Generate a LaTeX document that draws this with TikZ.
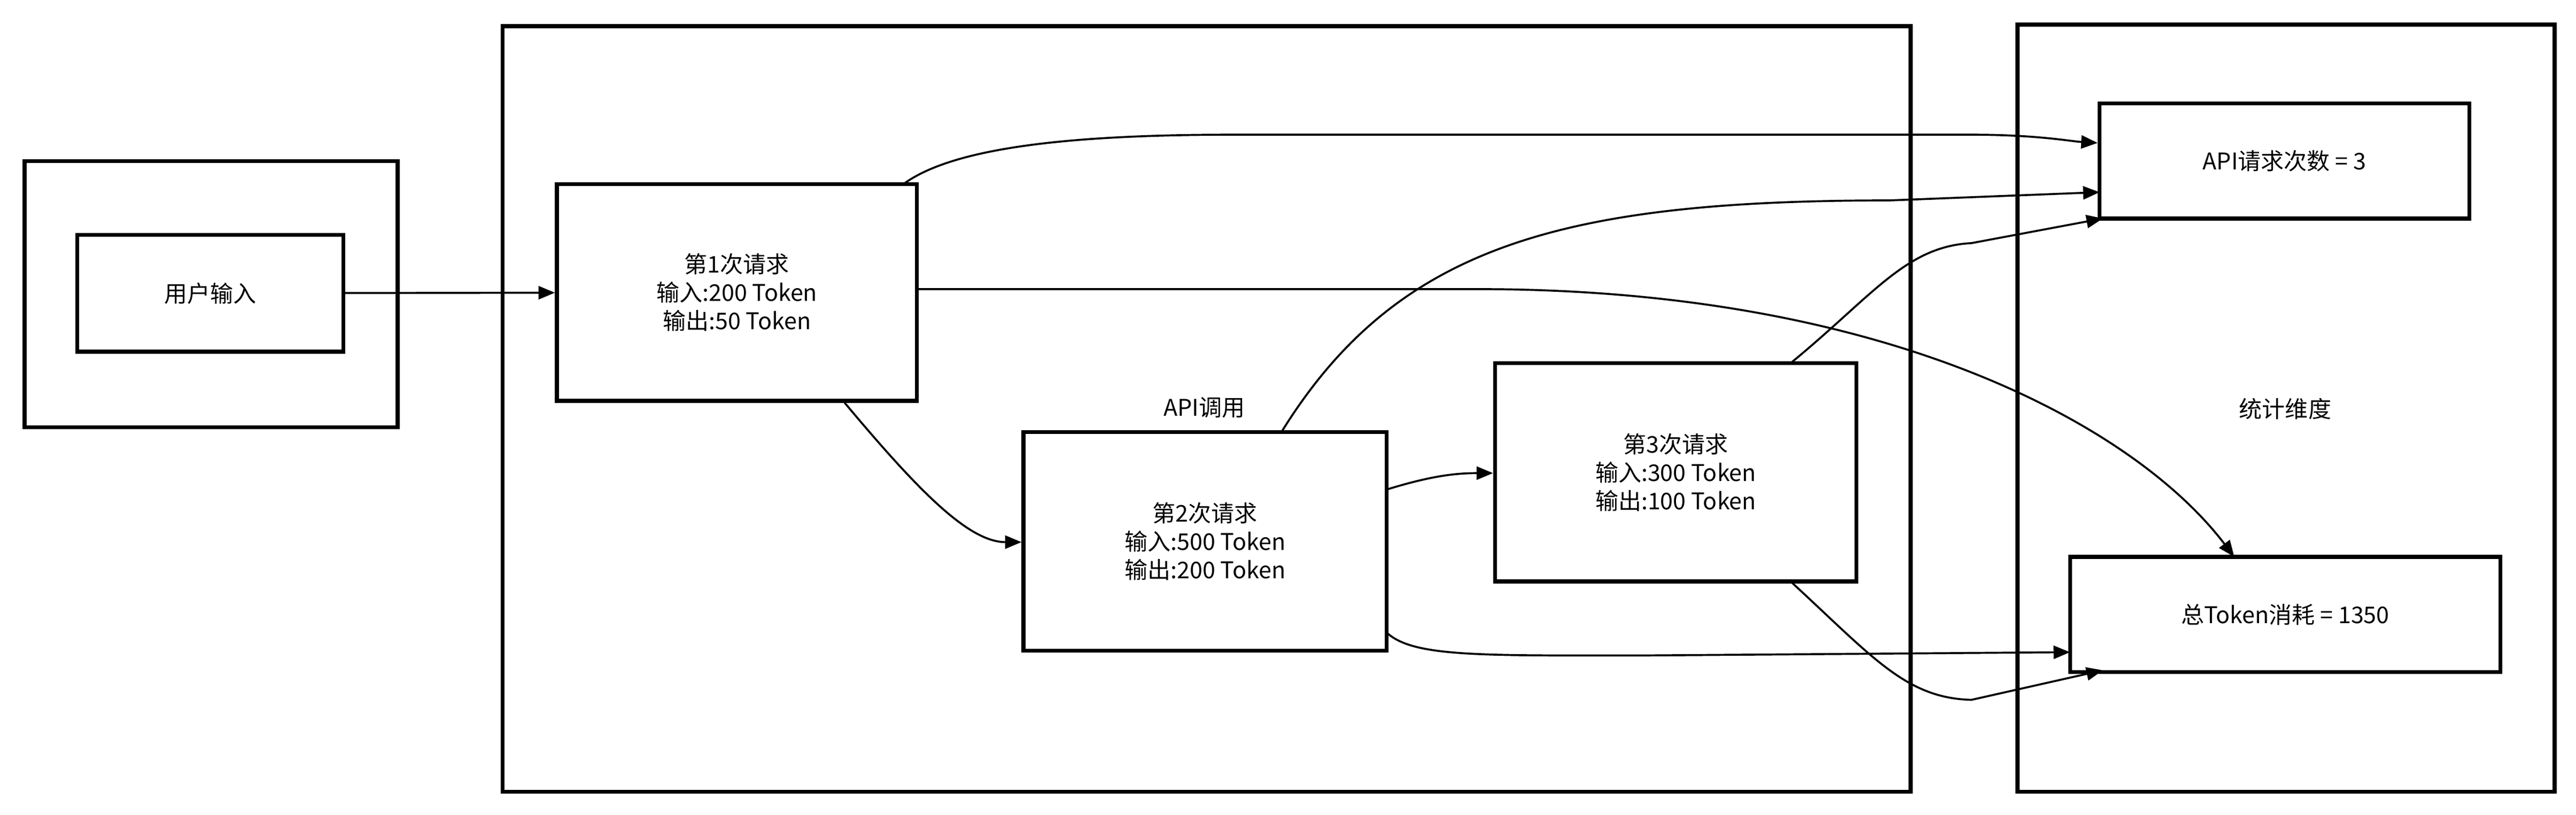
\documentclass[tikz,border=0pt]{standalone}
\usepackage{fontspec}
\setmainfont{Noto Sans CJK SC}
\usetikzlibrary{arrows.meta,positioning}
\tikzset{
  box/.style={draw,line width=1.2pt,align=center,font=\fontsize{7}{8.6}\selectfont},
  group/.style={draw,line width=1.2pt},
  link/.style={-{Triangle[length=5pt,width=4pt]},line width=0.6pt},
}
\begin{document}
\begin{tikzpicture}[x=0.5pt,y=-0.5pt]
\useasboundingbox (0,0) rectangle (1568,496);
% groups
\draw[group] (15,98) rectangle (242,260);
\draw[group] (306,16) rectangle (1163,482);
\draw[group] (1228,15) rectangle (1555,482);
\node[font=\fontsize{7}{8.6}\selectfont] (apilabel) at (733,248) {API调用};
\node[font=\fontsize{7}{8.6}\selectfont] (statlabel) at (1391,249) {统计维度};
% nodes
\node[box,minimum width=81pt,minimum height=35.5pt] (input) at (128,178.5) {用户输入};
\node[box,minimum width=109.5pt,minimum height=66pt] (req1) at (448.5,178) {第1次请求\\输入:200 Token\\输出:50 Token};
\node[box,minimum width=110.5pt,minimum height=66.5pt] (req2) at (733.5,329.5) {第2次请求\\输入:500 Token\\输出:200 Token};
\node[box,minimum width=110pt,minimum height=66.5pt] (req3) at (1020,287.5) {第3次请求\\输入:300 Token\\输出:100 Token};
\node[box,minimum width=112.5pt,minimum height=35pt] (count) at (1390.5,98) {API请求次数 = 3};
\node[box,minimum width=131pt,minimum height=35pt] (total) at (1391,374) {总Token消耗 = 1350};
% connectors
\coordinate (c1) at (550,112);
\coordinate (c2) at (780,263);
\coordinate (c3) at (1090,221);
\coordinate (c4) at (1090,354);
\coordinate (c5) at (844,298);
\coordinate (c6) at (844,385);
\coordinate (c7) at (514,245);
\draw[link] (input) -- (req1);
\draw[link] (c1) .. controls (580,90) and (650,82) .. (750,82) -- (1200,82) .. controls (1240,82) and (1260,86) .. (count.west|-0,87);
\draw[link] (req1.east|-0,176) -- (900,176) .. controls (1150,176) and (1300,260) .. (1360,339);
\draw[link] (c7) .. controls (560,300) and (590,330) .. (req2.west|-0,330);
\draw[link] (c2) .. controls (850,150) and (950,122) .. (1150,122) -- (1278,117);
\draw[link] (c5) .. controls (870,290) and (885,288) .. (req3.west|-0,288);
\draw[link] (c6) .. controls (860,400) and (900,399) .. (1000,399) -- (1260,397);
\draw[link] (c3) .. controls (1140,180) and (1160,150) .. (1200,148) -- (1280,133);
\draw[link] (c4) .. controls (1140,400) and (1160,425) .. (1200,426) -- (1280,408);
\end{tikzpicture}
\end{document}
